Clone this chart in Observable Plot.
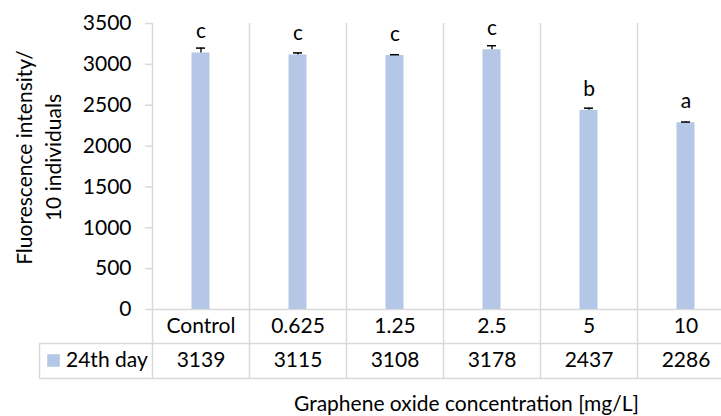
<!DOCTYPE html>
<html>
<head>
<meta charset="utf-8">
<script src="https://cdn.jsdelivr.net/npm/d3@7"></script>
<script src="https://cdn.jsdelivr.net/npm/@observablehq/plot@0.6"></script>
<style>
  html, body { margin: 0; padding: 0; background: #fff; overflow: hidden; }
  #chart svg { display: block; }
</style>
</head>
<body>
<div id="chart"></div>
<script>
const categories = ["Control", "0.625", "1.25", "2.5", "5", "10"];
const values = [3139, 3115, 3108, 3178, 2437, 2286];
const errors = [60, 25, 10, 50, 27, 8];
const letters = ["c", "c", "c", "c", "b", "a"];
const yTicks = [0, 500, 1000, 1500, 2000, 2500, 3000, 3500];
const seriesName = "24th day";
const yTitle = "Fluorescence intensity/\n10 individuals";
const xTitle = "Graphene oxide concentration [mg/L]";

const data = categories.map((c, i) => ({cat: c, value: values[i], err: errors[i], letter: letters[i]}));

const barColor = "#b4c7e7";
const gridColor = "#d9d9d9";
const fs = 21;

const chart = Plot.plot({
  width: 721,
  height: 416,
  marginLeft: 152,
  marginRight: -13,
  marginTop: 23,
  marginBottom: 107,
  style: {fontFamily: "Lato, 'Open Sans', sans-serif", fontSize: fs + "px", color: "#000", background: "#fff"},
  x: {domain: categories, padding: 0, axis: null},
  y: {domain: [0, 3500], axis: null, label: null},
  marks: [
    // vertical separators (extend through the data table)
    Plot.ruleX(categories, {x: d => d, dx: -48.5, insetBottom: -69, stroke: gridColor, strokeWidth: 1.5}),
    // left border of the table
    Plot.ruleX([categories[0]], {x: d => d, dx: -161.5, insetTop: 320, insetBottom: -69, stroke: gridColor, strokeWidth: 1.5}),
    // baseline and table row lines
    Plot.ruleY([0], {stroke: gridColor, strokeWidth: 1.5}),
    Plot.ruleY([0], {dy: 34, insetLeft: -113, stroke: gridColor, strokeWidth: 1.5}),
    Plot.ruleY([0], {dy: 69, insetLeft: -113, stroke: gridColor, strokeWidth: 1.5}),
    // y axis tick marks
    Plot.ruleY(yTicks, {insetLeft: -7, insetRight: 582, stroke: gridColor, strokeWidth: 1.5}),
    // y axis labels
    Plot.axisY({ticks: yTicks, tickSize: 0, tickPadding: 21, fontSize: fs, label: null, tickFormat: d => String(d)}),
    // bars
    Plot.barY(data, {x: "cat", y: "value", fill: barColor, insetLeft: 39.5, insetRight: 39.5}),
    // error bars
    Plot.ruleX(data, {x: "cat", y1: "value", y2: d => d.value + d.err, stroke: "#000", strokeWidth: 1.3}),
    Plot.tickY(data, {x: "cat", y: d => d.value + d.err, stroke: "#000", strokeWidth: 1.5, insetLeft: 44, insetRight: 44}),
    // significance letters
    Plot.text(data, {x: "cat", y: "value", text: "letter", dy: -21.5, lineAnchor: "middle", fontSize: fs, fill: "#000"}),
    // table: category row
    Plot.text(categories, {x: d => d, frameAnchor: "bottom", dy: 17, lineAnchor: "middle", fontSize: fs, fill: "#000"}),
    // table: value row
    Plot.text(data, {x: "cat", text: d => String(d.value), frameAnchor: "bottom", dy: 51, lineAnchor: "middle", fontSize: fs, fill: "#000"}),
    // legend key in table
    Plot.dot([categories[0]], {x: d => d, frameAnchor: "bottom", dx: -147.5, dy: 51, symbol: "square", r: 7.1, fill: barColor, stroke: null}),
    Plot.text([seriesName], {x: () => categories[0], frameAnchor: "bottom", dx: -135, dy: 51, textAnchor: "start", lineAnchor: "middle", fontSize: fs, fill: "#000"}),
    // axis titles
    Plot.text([yTitle], {frameAnchor: "left", dx: -115, dy: -9, rotate: -90, textAnchor: "middle", lineAnchor: "middle", lineHeight: 1.35, fontSize: fs, fill: "#000"}),
    Plot.text([xTitle], {frameAnchor: "bottom", dx: 23, dy: 95, textAnchor: "middle", lineAnchor: "middle", fontSize: fs, fill: "#000"})
  ]
});

document.getElementById("chart").appendChild(chart);
</script>
</body>
</html>
